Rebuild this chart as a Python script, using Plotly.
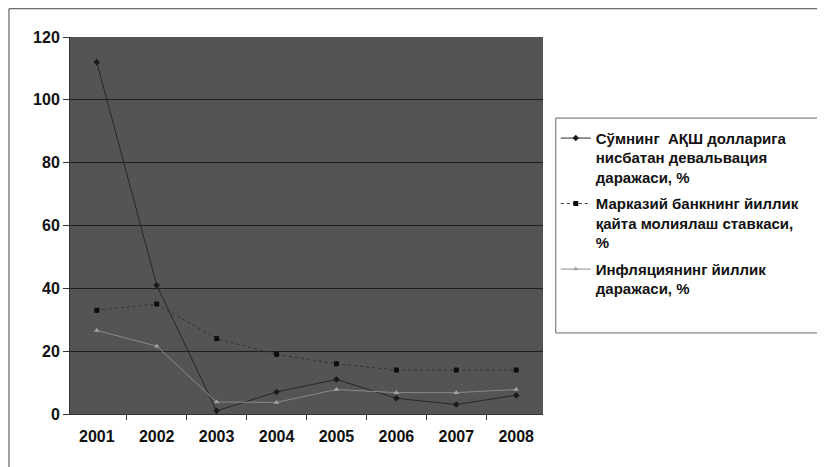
import plotly.graph_objects as go

years = ["2001", "2002", "2003", "2004", "2005", "2006", "2007", "2008"]
devaluation = [112, 41, 1, 7, 11, 5, 3, 6]
refinancing = [33, 35, 24, 19, 16, 14, 14, 14]
inflation = [26.6, 21.6, 3.8, 3.7, 7.8, 6.8, 6.8, 7.8]

names = [
    "<b>Сўмнинг  АҚШ долларига<br>нисбатан девальвация<br>даражаси, %</b>",
    "<b>Марказий банкнинг йиллик<br>қайта молиялаш ставкаси,<br>%</b>",
    "<b>Инфляциянинг йиллик<br>даражаси, %</b>",
]

FONT = "Liberation Sans, Arial, sans-serif"

fig = go.Figure()
fig.add_trace(go.Scatter(x=years, y=devaluation, name=names[0], mode="lines+markers",
                         legendgroup="g1",
                         line=dict(color="#262626", width=1),
                         marker=dict(symbol="diamond", size=5, color="#1a1a1a")))
fig.add_trace(go.Scatter(x=years, y=refinancing, name=names[1], mode="lines+markers",
                         legendgroup="g2",
                         line=dict(color="#333333", width=1, dash="dot"),
                         marker=dict(symbol="square", size=5, color="#0d0d0d")))
fig.add_trace(go.Scatter(x=years, y=inflation, name=names[2], mode="lines+markers",
                         legendgroup="g3",
                         line=dict(color="#8a8a8a", width=1),
                         marker=dict(symbol="triangle-up", size=5, color="#a5a5a5")))

fig.update_layout(
    width=825, height=467,
    margin=dict(l=62, r=290, t=29, b=61),
    paper_bgcolor="white",
    plot_bgcolor="#545454",
    font=dict(family=FONT, size=15, color="#111"),
    showlegend=True,
    legend=dict(x=1.027, y=0.775, xanchor="left", yanchor="top",
                borderwidth=0, bgcolor="rgba(255,255,255,0)",
                font=dict(family=FONT, size=15, color="#111"),
                tracegroupgap=4, itemwidth=30, valign="top"),
    xaxis=dict(showgrid=False, ticks="outside", ticklen=5, tickcolor="#333",
               tickson="boundaries",
               showline=True, linecolor="#333", linewidth=1,
               tickfont=dict(size=16, family=FONT, color="#111"),
               tickprefix="<b>", ticksuffix="</b>", ticklabelstandoff=8),
    yaxis=dict(range=[0, 120], dtick=20, showgrid=True, gridcolor="#1e1e1e", gridwidth=1,
               ticks="outside", ticklen=6, tickcolor="#333", zeroline=False,
               showline=True, linecolor="#333", linewidth=1,
               tickfont=dict(size=16, family=FONT, color="#111"),
               tickprefix="<b>", ticksuffix="</b>"),
)

# outer frame of the scanned chart
fig.add_shape(type="rect", xref="paper", yref="paper",
              x0=-0.129, x1=1.7, y0=-0.3, y1=1.075,
              line=dict(color="#444", width=1), fillcolor="rgba(0,0,0,0)", layer="below")
# legend box
fig.add_shape(type="rect", xref="paper", yref="paper",
              x0=1.027, x1=1.59, y0=0.215, y1=0.785,
              line=dict(color="#666", width=1), fillcolor="white", layer="below")

fig.write_html("out.html")
